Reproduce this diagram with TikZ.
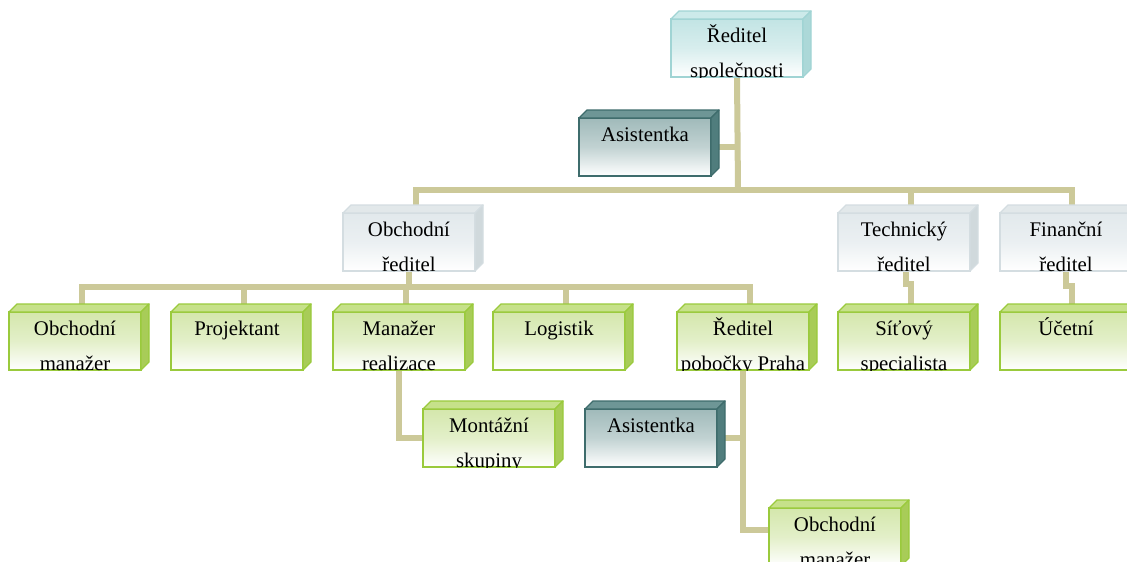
\documentclass[tikz,border=0pt]{standalone}
\usepackage{fontspec}
\setmainfont{Liberation Serif}
\usetikzlibrary{backgrounds,calc}
\definecolor{conncol}{RGB}{204,201,153}
\definecolor{gedge}{RGB}{154,202,60}
\definecolor{gfront}{RGB}{212,231,172}
\definecolor{gtop}{RGB}{198,225,138}
\definecolor{gside}{RGB}{168,204,88}
\definecolor{tedge}{RGB}{62,108,108}
\definecolor{tfront}{RGB}{160,186,186}
\definecolor{ttop}{RGB}{110,150,150}
\definecolor{tside}{RGB}{80,125,125}
\definecolor{cedge}{RGB}{160,212,212}
\definecolor{cfront}{RGB}{194,228,228}
\definecolor{ctop}{RGB}{204,234,234}
\definecolor{cside}{RGB}{172,216,216}
\definecolor{sedge}{RGB}{212,221,225}
\definecolor{sfront}{RGB}{226,233,236}
\definecolor{stop}{RGB}{226,232,234}
\definecolor{sside}{RGB}{208,217,220}
\tikzset{
  boxfront/.style={anchor=north west, minimum width=132pt, minimum height=58pt, inner sep=0pt, outer sep=0pt, line width=1.3pt},
  greenfront/.style={draw=gedge, top color=gfront, bottom color=white, middle color=gfront!65!white},
  greentop/.style={draw=gedge, fill=gtop, line width=1.3pt, line join=round},
  greenside/.style={draw=gedge, fill=gside, line width=1.3pt, line join=round},
  tealfront/.style={draw=tedge, top color=tfront, bottom color=white, middle color=tfront!65!white},
  tealtop/.style={draw=tedge, fill=ttop, line width=1.3pt, line join=round},
  tealside/.style={draw=tedge, fill=tside, line width=1.3pt, line join=round},
  cyanfront/.style={draw=cedge, top color=cfront, bottom color=white, middle color=cfront!65!white},
  cyantop/.style={draw=cedge, fill=ctop, line width=1.3pt, line join=round},
  cyanside/.style={draw=cedge, fill=cside, line width=1.3pt, line join=round},
  grayfront/.style={draw=sedge, top color=sfront, bottom color=white, middle color=sfront!70!white},
  graytop/.style={draw=sedge, fill=stop, line width=1.3pt, line join=round},
  grayside/.style={draw=sedge, fill=sside, line width=1.3pt, line join=round},
  boxtext/.style={anchor=north, inner sep=0pt, outer sep=0pt, align=center, font=\fontsize{20.8}{35}\selectfont, text=black},
  conn/.style={draw=conncol, line width=6pt}
}
\newcommand{\orgbox}[5]{%
  \node[boxfront, #4front] (#1) at (#2,#3) {};
  \filldraw[#4top] (#1.north west) -- ([shift={(8,-8)}]#1.north west) -- ([shift={(8,-8)}]#1.north east) -- (#1.north east) -- cycle;
  \filldraw[#4side] (#1.north east) -- ([shift={(8,-8)}]#1.north east) -- ([shift={(8,-8)}]#1.south east) -- (#1.south east) -- cycle;
  \begin{scope}
    \clip (#1.south west) rectangle (#1.north east);
    \node[boxtext] (#1-t) at ([yshift=-4pt]#1.north) {\rule{0pt}{19pt}#5};
  \end{scope}}
\begin{document}
\begin{tikzpicture}[x=1pt,y=-1pt]
\useasboundingbox (0,0) rectangle (1127,562);
% boxes
\orgbox{ceo}{671}{19}{cyan}{Ředitel\\společnosti}
\orgbox{as1}{579}{118}{teal}{Asistentka}
\orgbox{obr}{343}{213}{gray}{Obchodní\\ředitel}
\orgbox{tech}{838}{213}{gray}{Technický\\ředitel}
\orgbox{fin}{1000}{213}{gray}{Finanční\\ředitel}
\orgbox{om1}{9}{312}{green}{Obchodní\\manažer}
\orgbox{proj}{171}{312}{green}{Projektant}
\orgbox{mr}{333}{312}{green}{Manažer\\realizace}
\orgbox{log}{493}{312}{green}{Logistik}
\orgbox{rp}{677}{312}{green}{Ředitel\\pobočky Praha}
\orgbox{sit}{838}{312}{green}{Síťový\\specialista}
\orgbox{uc}{1000}{312}{green}{Účetní}
\orgbox{mont}{423}{409}{green}{Montážní\\skupiny}
\orgbox{as2}{585}{409}{teal}{Asistentka}
\orgbox{om2}{769}{508}{green}{Obchodní\\manažer}
% connectors
\begin{pgfonlayer}{background}
\fill[white] (0,0) rectangle (1127,562);
\coordinate (j1) at (738,190);
\coordinate (j2) at (409,287);
\draw[conn] (ceo.south) -- (j1);
\draw[conn] (as1.east) -- (as1.east -| j1);
\draw[conn] ([xshift=7pt]obr.north) -- ([xshift=7pt]obr.north |- j1) -- ([xshift=6pt]fin.north |- j1) -- ([xshift=6pt]fin.north);
\draw[conn] ([xshift=7pt]tech.north) -- ([xshift=7pt]tech.north |- j1);
\draw[conn] (obr.south) -- (obr.south |- j2);
\draw[conn] ([xshift=7pt]om1.north) -- ([xshift=7pt]om1.north |- j2) -- ([xshift=7pt]rp.north |- j2) -- ([xshift=7pt]rp.north);
\draw[conn] ([xshift=7pt]proj.north) -- ([xshift=7pt]proj.north |- j2);
\draw[conn] ([xshift=7pt]mr.north) -- ([xshift=7pt]mr.north |- j2);
\draw[conn] ([xshift=7pt]log.north) -- ([xshift=7pt]log.north |- j2);
\draw[conn] ([xshift=2pt]tech.south) -- ++(0,13) -| ([xshift=7pt]sit.north);
\draw[conn] (fin.south) -- ++(0,15) -| ([xshift=6pt]uc.north);
\draw[conn] (mr.south) |- (mont.west);
\draw[conn] (rp.south) |- ([yshift=7pt]om2.west);
\draw[conn] (as2.east) -- (as2.east -| rp.south);
\end{pgfonlayer}
\end{tikzpicture}
\end{document}
